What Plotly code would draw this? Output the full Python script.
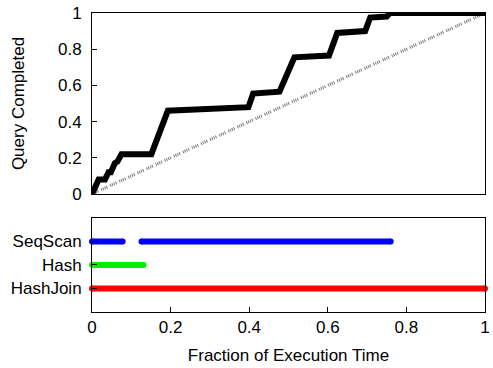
import plotly.graph_objects as go

# Query progress curve (fraction of execution time -> fraction of query completed)
progress_x = [0, 0.017, 0.033, 0.042, 0.048, 0.058, 0.065, 0.075, 0.151, 0.193,
              0.398, 0.41, 0.477, 0.515, 0.603, 0.624, 0.695, 0.708, 0.75, 0.758, 1.0]
progress_y = [0, 0.08, 0.08, 0.12, 0.12, 0.17, 0.18, 0.22, 0.22, 0.46,
              0.48, 0.555, 0.565, 0.755, 0.765, 0.89, 0.90, 0.975, 0.98, 1.0, 1.0]

# Ideal linear reference
ideal_x = [0, 1]
ideal_y = [0, 1]

# Operator activity intervals
operators = ["HashJoin", "Hash", "SeqScan"]
op_colors = {"SeqScan": "#0000ff", "Hash": "#00ee00", "HashJoin": "#ff0000"}
intervals = {
    "SeqScan": [(0.0, 0.078), (0.126, 0.76)],
    "Hash": [(0.0, 0.131)],
    "HashJoin": [(0.0, 1.0)],
}

x_ticks = [0, 0.2, 0.4, 0.6, 0.8, 1]
x_ticktext = ["0", "0.2", "0.4", "0.6", "0.8", "1"]
y_ticks = [0, 0.2, 0.4, 0.6, 0.8, 1]
y_ticktext = ["0", "0.2", "0.4", "0.6", "0.8", "1"]

FONT = "Liberation Sans, Arial, sans-serif"

fig = go.Figure()

fig.add_trace(go.Scatter(x=ideal_x, y=ideal_y, mode="lines",
                         line=dict(color="#7a7a7a", width=3, dash="1px,1px,1px,1px,1px,1px,1px,3px"),
                         xaxis="x2", yaxis="y2", showlegend=False, hoverinfo="skip"))
fig.add_trace(go.Scatter(x=progress_x, y=progress_y, mode="lines",
                         line=dict(color="black", width=6),
                         xaxis="x2", yaxis="y2", showlegend=False, cliponaxis=False))

for op in ["HashJoin", "Hash", "SeqScan"]:
    xs, ys = [], []
    for a, b in intervals[op]:
        xs += [a, b, None]
        ys += [op, op, None]
    fig.add_trace(go.Scatter(x=xs, y=ys, mode="lines+markers",
                             line=dict(color=op_colors[op], width=6),
                             marker=dict(color=op_colors[op], size=6),
                             xaxis="x", yaxis="y", showlegend=False, cliponaxis=False))

axis_common = dict(showline=True, linecolor="black", linewidth=1, mirror=True,
                   showgrid=False, zeroline=False,
                   tickfont=dict(family=FONT, size=17, color="black"))

fig.update_layout(
    width=493, height=368,
    margin=dict(l=92, r=3, t=13, b=56),
    paper_bgcolor="white", plot_bgcolor="white",
    font=dict(family=FONT, size=17, color="black"),
    xaxis=dict(domain=[0, 1], range=[0, 1], anchor="y",
               tickvals=x_ticks, ticktext=x_ticktext, ticklabeloverflow="allow",
               ticks="inside", ticklen=5, tickcolor="black",
               title=dict(text="Fraction of Execution Time", font=dict(size=17, family=FONT), standoff=12),
               **axis_common),
    yaxis=dict(domain=[0, 0.3144], anchor="x", type="category",
               categoryorder="array", categoryarray=operators, range=[-1, 3],
               ticks="inside", ticklen=5, tickcolor="black", ticklabelstandoff=6,
               **axis_common),
    xaxis2=dict(domain=[0, 1], range=[0, 1], anchor="y2", matches="x",
                showticklabels=False, ticks="", **axis_common),
    yaxis2=dict(domain=[0.3946, 1], range=[0, 1], anchor="x2",
                tickvals=y_ticks, ticktext=y_ticktext,
                ticks="inside", ticklen=5, tickcolor="black", ticklabelstandoff=6,
                title=dict(text="Query Completed", font=dict(size=17, family=FONT), standoff=29),
                **axis_common),
)

fig.write_html("out.html")
